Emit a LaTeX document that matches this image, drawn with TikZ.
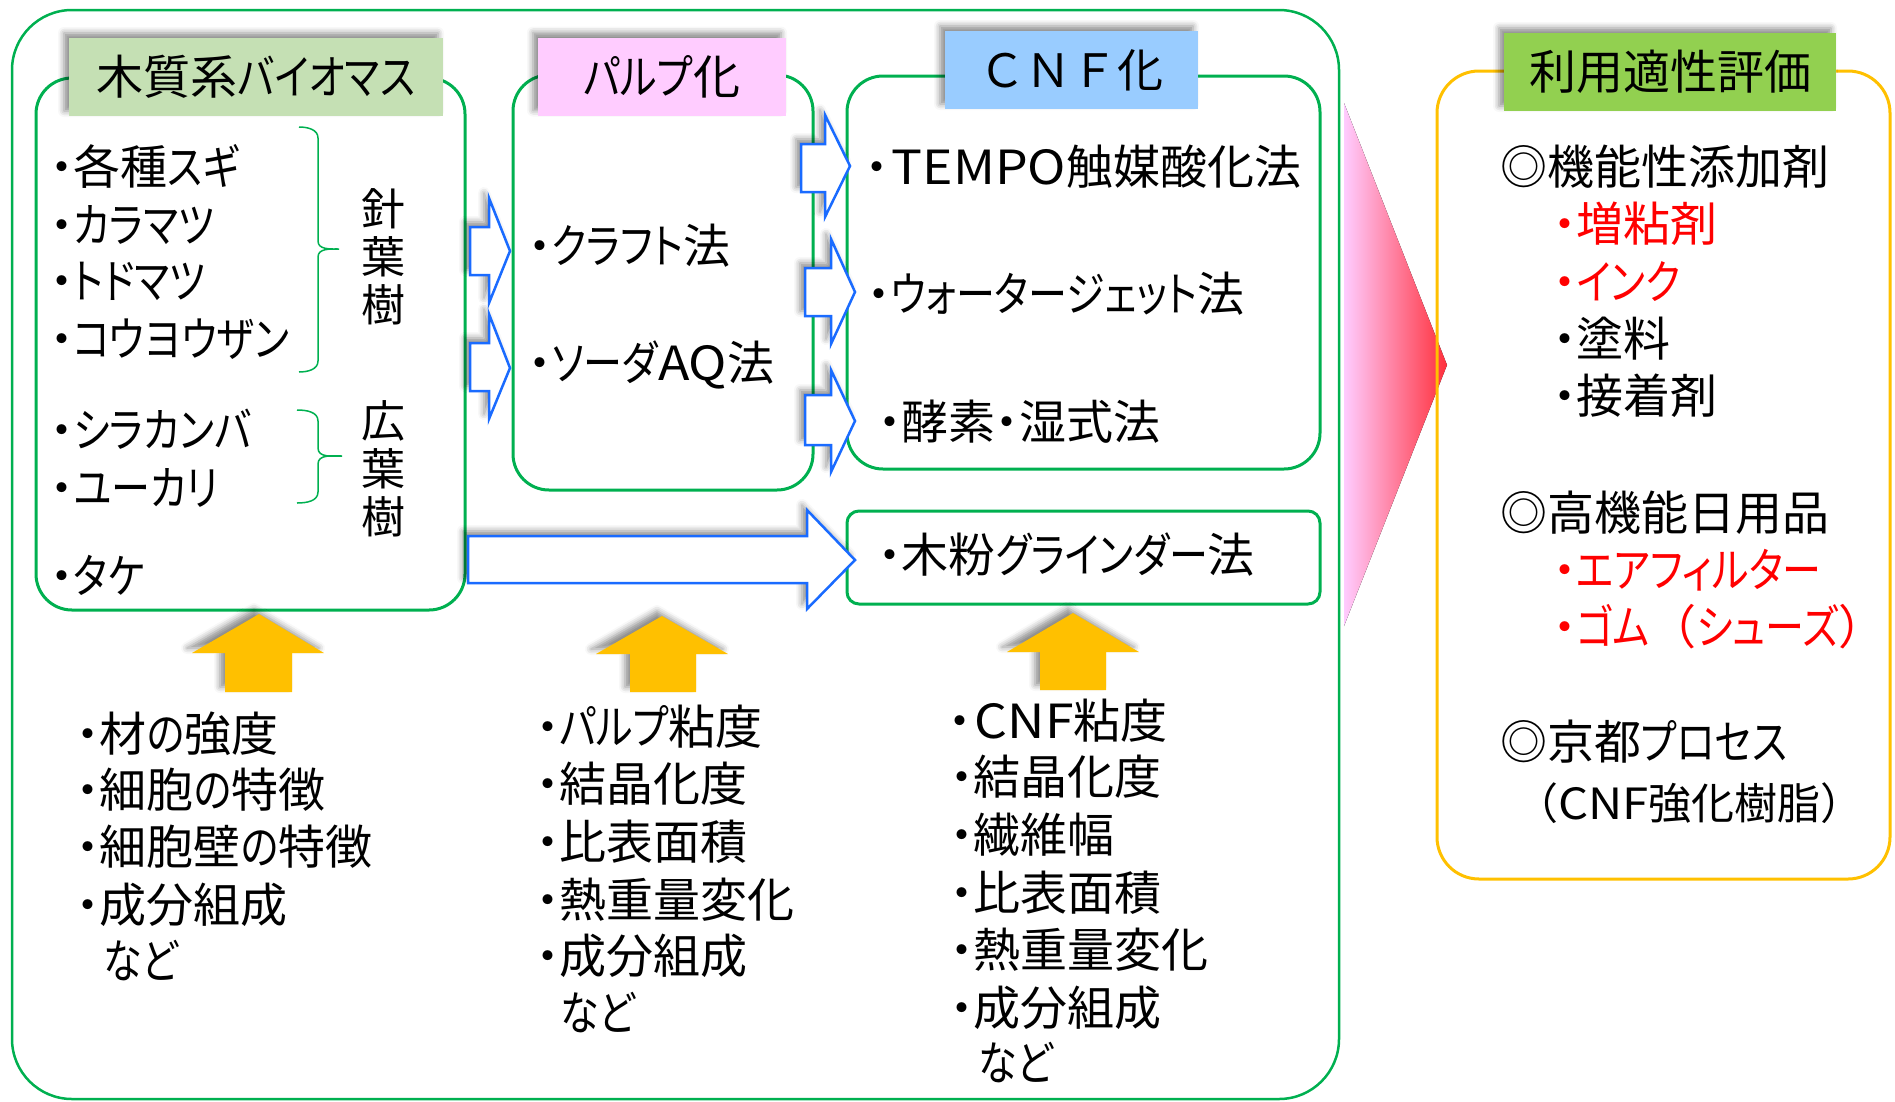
\documentclass[tikz,border=0pt]{standalone}
\usepackage{fontspec}
\setmainfont{Noto Sans CJK JP}[RawFeature=+palt]
\newfontfamily\jpfw{Noto Sans CJK JP}
\newfontfamily\kanafont{Noto Sans CJK JP}[RawFeature=+palt, FakeStretch=0.83]
\newfontfamily\latinfont{Noto Sans CJK JP}[RawFeature=+palt, FakeStretch=1.1]
\newcommand\kn[1]{{\kanafont #1}}
\newcommand\lt[1]{{\latinfont #1}}
\newcommand\fwl{{\jpfw （}}
\newcommand\fwr{{\jpfw ）}}
\usetikzlibrary{shadows.blur}
\definecolor{grn}{HTML}{00B050}
\definecolor{boxgreen}{HTML}{C5E0B4}
\definecolor{pinkc}{HTML}{FFCCFF}
\definecolor{skyc}{HTML}{99CCFF}
\definecolor{limec}{HTML}{92D050}
\definecolor{goldc}{HTML}{FFC000}
\definecolor{arrblue}{HTML}{1A6BFF}
\definecolor{redc}{HTML}{FF0000}
\pgfdeclarehorizontalshading{pinkred}{100bp}{color(0bp)=(pinkc); color(25bp)=(pinkc); color(90bp)=(redc); color(100bp)=(redc)}
\tikzset{
  panel/.style={draw=grn, line width=3pt, rounded corners=36pt, inner sep=0pt},
  sh/.style={blur shadow={shadow xshift=-5pt, shadow yshift=5pt, shadow blur radius=6pt, shadow opacity=45}},
  titlebox/.style={sh, inner sep=0pt, minimum height=78pt, font=\fontsize{47}{50}\selectfont},
  item/.style={anchor=west, inner sep=0pt, text height=39pt, text depth=3pt, font=\fontsize{47}{52}\selectfont},
  reditem/.style={item, text=redc},
  barrow/.style={draw=arrblue, fill=white, line width=2.5pt, line join=miter, sh},
  yarrow/.style={fill=goldc, sh},
  brace/.style={draw=grn, line width=1.5pt}
}
\begin{document}
\begin{tikzpicture}[x=1pt,y=-1pt]
\useasboundingbox (0,0) rectangle (1895,1101);
% outer panel
\node[panel, line width=2.5pt, rounded corners=60pt, minimum width=1327pt, minimum height=1089pt] (outer) at (675.5,554.5) {};
% gradient triangle
\fill[shading=pinkred] (1344,103) -- (1447,365) -- (1344,626) -- cycle;
% yellow panel
\node[draw=goldc, line width=3pt, rounded corners=42pt, minimum width=453pt, minimum height=808pt, inner sep=0pt] (evalbox) at (1663.5,475) {};
% inner panels
\node[panel, minimum width=429pt, minimum height=532pt] (biobox) at (250.5,344) {};
\node[panel, minimum width=300pt, minimum height=415pt] (pulpbox) at (663,282.5) {};
\node[panel, minimum width=473pt, minimum height=393pt] (cnfbox) at (1083.5,272.5) {};
\node[panel, rounded corners=12pt, minimum width=473pt, minimum height=93pt] (grindbox) at (1083.5,557.5) {};
% titles
\node[titlebox, fill=boxgreen, minimum width=374pt] (biotitle) at (256,77) {木質系\kn{バイオマス}};
\node[titlebox, fill=pinkc, minimum width=248pt] (pulptitle) at (662,76.5) {\kn{パルプ}化};
\node[titlebox, fill=skyc, minimum width=253pt, font=\jpfw\fontsize{46}{50}\selectfont] (cnftitle) at (1071.5,70) {ＣＮＦ化};
\node[titlebox, fill=limec, minimum width=332pt] (evaltitle) at (1670,72) {利用適性評価};
% blue block arrows
\path[barrow] (470,227) -- (489,227) -- (489,198) -- (510,251) -- (489,303) -- (489,275) -- (470,275) -- cycle;
\path[barrow] (470,343) -- (489,343) -- (489,314) -- (510,368) -- (489,419) -- (489,391) -- (470,391) -- cycle;
\path[barrow] (801,144) -- (825,144) -- (825,115) -- (850,166) -- (825,217) -- (825,192) -- (801,192) -- cycle;
\path[barrow] (805,268) -- (831,268) -- (831,239) -- (855,292) -- (831,344) -- (831,316) -- (805,316) -- cycle;
\path[barrow] (805,395) -- (831,395) -- (831,370) -- (855,421) -- (831,472) -- (831,445) -- (805,445) -- cycle;
\path[barrow] (468,536) -- (807,536) -- (807,510) -- (855,560) -- (807,609) -- (807,583) -- (468,583) -- cycle;
% yellow up arrows
\path[yarrow] (225,692) -- (225,653) -- (192,653) -- (259,614) -- (324,653) -- (292,653) -- (292,692) -- cycle;
\path[yarrow] (630,692) -- (630,654) -- (596,654) -- (662,616) -- (728,654) -- (696,654) -- (696,692) -- cycle;
\path[yarrow] (1040,690) -- (1040,652) -- (1007,652) -- (1073,613) -- (1139,652) -- (1106,652) -- (1106,690) -- cycle;
% braces
\draw[brace] (299,127) to[out=0,in=90] (318,138) -- (318,241) to[out=-90,in=180] (339,249) to[out=180,in=90] (318,257) -- (318,361) to[out=-90,in=0] (299,372);
\draw[brace] (297,410) to[out=0,in=90] (318,421) -- (318,448) to[out=-90,in=180] (342,456) to[out=180,in=90] (318,464) -- (318,492) to[out=-90,in=0] (297,503);
% biomass items
\node[item] (b1) at (50,166) {・各種\kn{スギ}};
\node[item] (b2) at (50,224) {・\kn{カラマツ}};
\node[item] (b3) at (50,280) {・\kn{トドマツ}};
\node[item] (b4) at (50,338) {・\kn{コウヨウザン}};
\node[item] (b5) at (50,429) {・\kn{シラカンバ}};
\node[item] (b6) at (50,487) {・\kn{ユーカリ}};
\node[item] (b7) at (50,575) {・\kn{タケ}};
\node[inner sep=0pt, align=center, font=\fontsize{44}{48}\selectfont] (conifer) at (383,257) {針\\葉\\樹};
\node[inner sep=0pt, align=center, font=\fontsize{44}{48}\selectfont] (broadleaf) at (383,469) {広\\葉\\樹};
% pulp items
\node[item] (p1) at (528,245) {・\kn{クラフト}法};
\node[item] (p2) at (528,362) {・\kn{ソーダ}\lt{AQ}法};
% cnf items
\node[item] (c1) at (865,166) {・\hspace{3pt}\lt{TEMPO}触媒酸化法};
\node[item] (c2) at (867,293) {・\kn{ウォータージェット}法};
\node[item] (c3) at (878,421) {・酵素・湿式法};
\node[item] (c4) at (878,554) {・木粉\kn{グラインダー}法};
% bottom column 1
\node[item] (m1) at (76,733) {・材\kn{の}強度};
\node[item] (m2) at (76,789) {・細胞\kn{の}特徴};
\node[item] (m3) at (76,846) {・細胞壁\kn{の}特徴};
\node[item] (m4) at (76,904) {・成分組成};
\node[item] (m5) at (103,960) {\kn{など}};
% bottom column 2
\node[item] (q1) at (536,726) {・\kn{パルプ}粘度};
\node[item] (q2) at (536,783) {・結晶化度};
\node[item] (q3) at (536,841) {・比表面積};
\node[item] (q4) at (536,899) {・熱重量変化};
\node[item] (q5) at (536,955) {・成分組成};
\node[item] (q6) at (560,1012) {\kn{など}};
% bottom column 3
\node[item] (r1) at (948,720) {・\hspace{3pt}\lt{CNF}粘度};
\node[item] (r2) at (950,776) {・結晶化度};
\node[item] (r3) at (950,834) {・繊維幅};
\node[item] (r4) at (950,892) {・比表面積};
\node[item] (r5) at (950,949) {・熱重量変化};
\node[item] (r6) at (950,1007) {・成分組成};
\node[item] (r7) at (978,1062) {\kn{など}};
% evaluation items
\node[item] (e1) at (1500,166) {◎機能性添加剤};
\node[reditem] (e2) at (1553,223) {・増粘剤};
\node[reditem] (e3) at (1553,281) {・\kn{インク}};
\node[item] (e4) at (1553,338) {・塗料};
\node[item] (e5) at (1553,395) {・接着剤};
\node[item] (e6) at (1500,512) {◎高機能日用品};
\node[reditem] (e7) at (1553,569) {・\kn{エアフィルター}};
\node[reditem] (e8) at (1553,626) {・\kn{ゴム}\fwl\kn{シューズ}\fwr};
\node[item] (e9) at (1500,741) {◎京都\kn{プロセス}};
\node[item, font=\fontsize{43}{48}\selectfont] (e10) at (1515,801) {\fwl\lt{CNF}強化樹脂\fwr};
\end{tikzpicture}
\end{document}
